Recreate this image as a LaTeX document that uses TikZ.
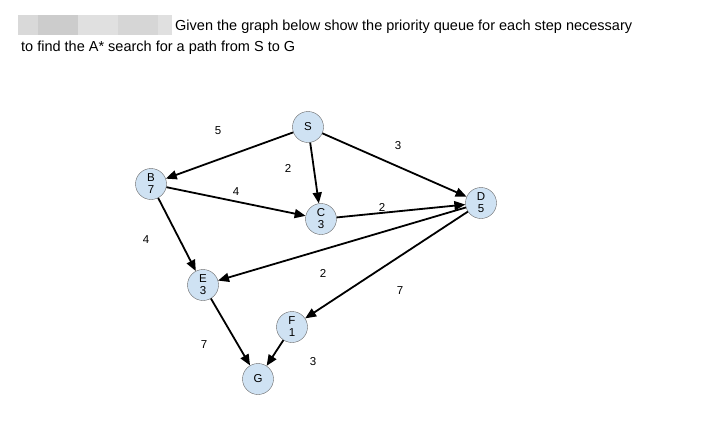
\documentclass[tikz,border=0pt]{standalone}
\usepackage{fontspec}
\setmainfont{Liberation Sans}
\usetikzlibrary{arrows.meta}
\definecolor{nfill}{HTML}{CFE2F3}
\definecolor{nline}{HTML}{666666}
\begin{document}
\begin{tikzpicture}[x=1pt,y=-1pt,
  st/.style={circle,draw=nline,fill=nfill,minimum size=31pt,inner sep=0pt,font=\fontsize{11.5}{12}\selectfont,align=center},
  e/.style={line width=1.8pt,-{Triangle[length=11pt,width=9pt]}},
  lb/.style={font=\fontsize{11.5}{12}\selectfont}]
\useasboundingbox (0,0) rectangle (710,426);
\fill[black!15] (18,15) rectangle (38,35);
\fill[black!20] (38,15) rectangle (78,35);
\fill[black!12] (78,15) rectangle (118,35);
\fill[black!16] (118,15) rectangle (158,35);
\fill[black!12] (158,15) rectangle (172,35);
\node[anchor=base west,font=\fontsize{14.5}{15}\selectfont,inner sep=0pt] (t1) at (175,30) {Given the graph below show the priority queue for each step necessary};
\node[anchor=base west,font=\fontsize{14.5}{15}\selectfont,inner sep=0pt] (t2) at (21,51) {to find the A* search for a path from S to G};
\node[st] (S) at (308,127) {S};
\node[st] (B) at (151,184) {B\\7};
\node[st] (C) at (321,219) {C\\3};
\node[st] (D) at (481,203) {D\\5};
\node[st] (E) at (203,285) {E\\3};
\node[st] (F) at (292,327) {F\\1};
\node[st] (G) at (258,379) {G};
\draw[e] (S) -- (B);
\draw[e] (S) -- (C);
\draw[e] (S) -- (D);
\draw[e] (B) -- (C);
\draw[e] (B) -- (E);
\draw[e] (C) -- (D);
\draw[e] (D) -- (E);
\draw[e] (D) -- (F);
\draw[e] (E) -- (G);
\draw[e] (F) -- (G);
\node[lb] (l1) at (218,131) {5};
\node[lb] (l2) at (398,146) {3};
\node[lb] (l3) at (288,168) {2};
\node[lb] (l4) at (236,192) {4};
\node[lb] (l5) at (382,207) {2};
\node[lb] (l6) at (146,240) {4};
\node[lb] (l7) at (323,273) {2};
\node[lb] (l8) at (400,291) {7};
\node[lb] (l9) at (204,345) {7};
\node[lb] (l10) at (313,362) {3};
\end{tikzpicture}
\end{document}
